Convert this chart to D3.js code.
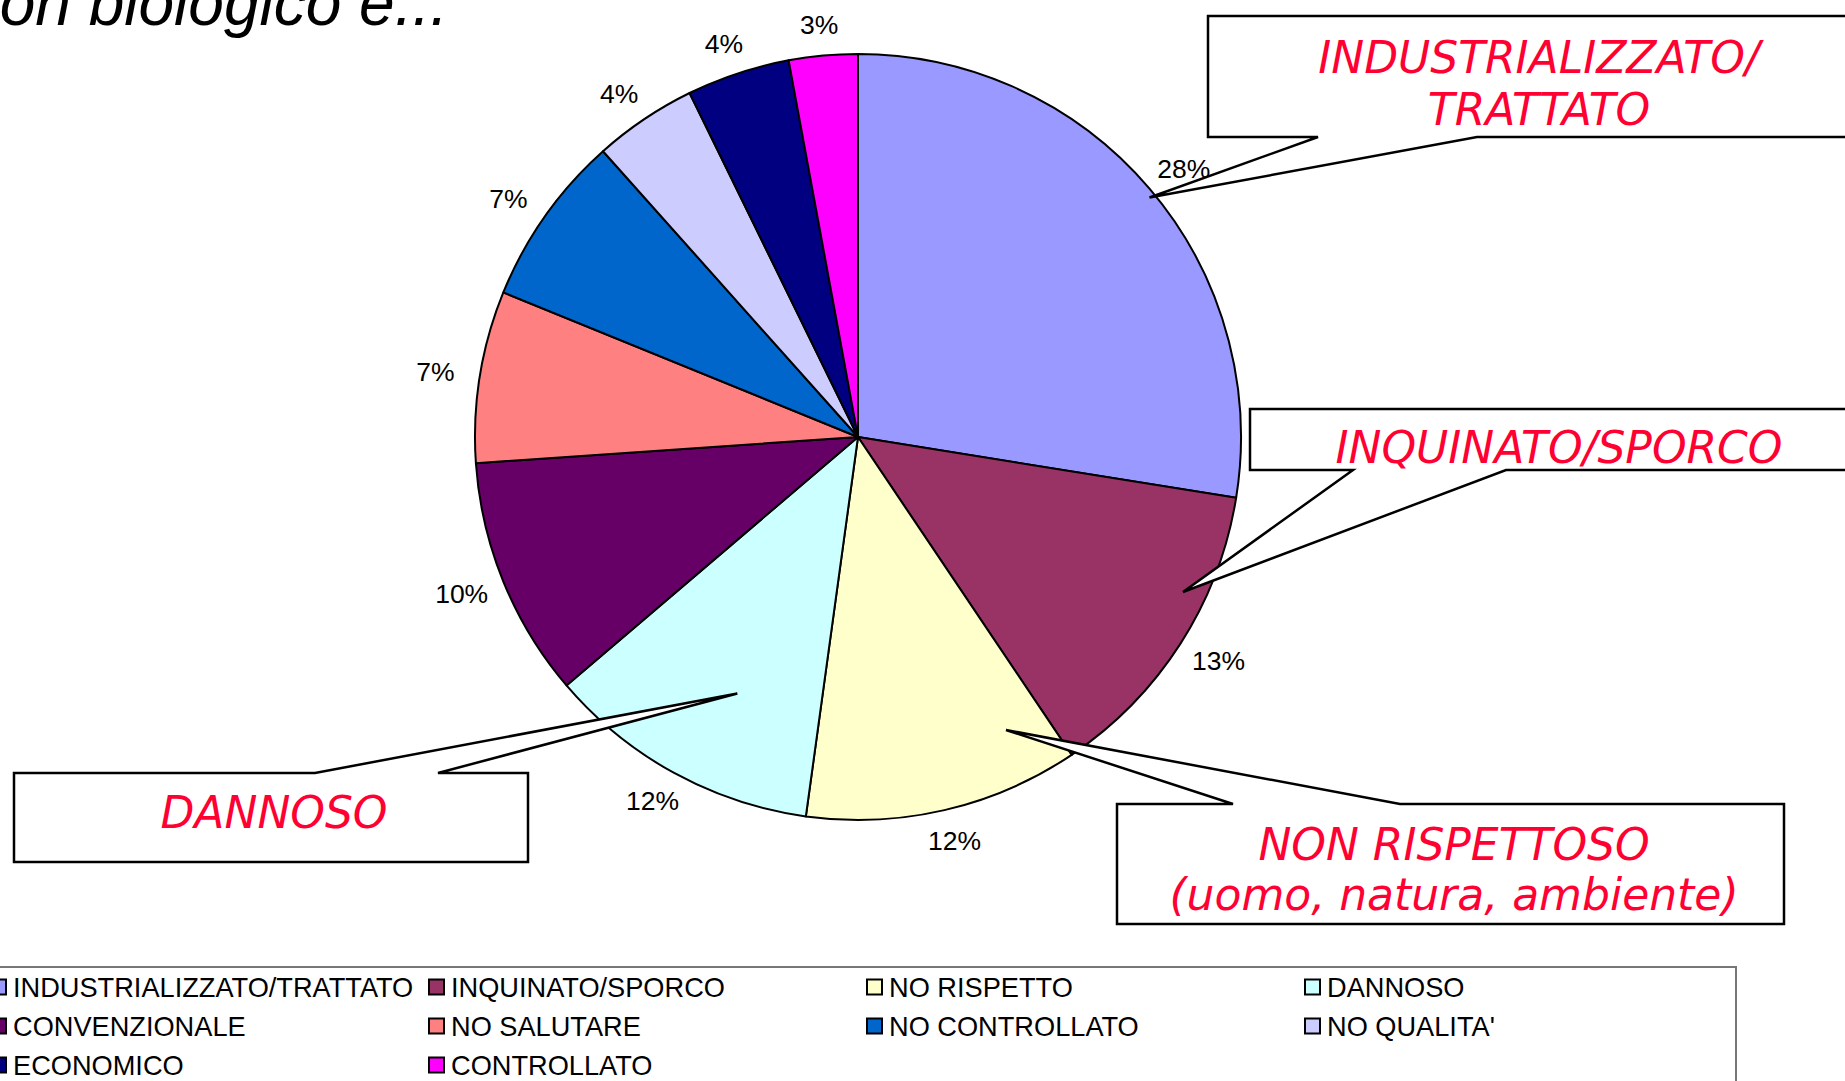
<!DOCTYPE html>
<html>
<head>
<meta charset="utf-8">
<script src="https://cdn.jsdelivr.net/npm/d3@7"></script>
<style>
  body { margin: 0; background: #fff; overflow: hidden; }
  text { font-family: Arial, "Liberation Sans", sans-serif; }
</style>
</head>
<body>
<div id="chart"></div>
<script>
// Data (answer counts, shown as rounded percentages)
const categories = ['INDUSTRIALIZZATO/TRATTATO', 'INQUINATO/SPORCO', 'NO RISPETTO', 'DANNOSO',
  'CONVENZIONALE', 'NO SALUTARE', 'NO CONTROLLATO', "NO QUALITA'", 'ECONOMICO', 'CONTROLLATO'];
const values = [19, 9, 8, 8, 7, 5, 5, 3, 3, 2];
const colors = ['#9999FF', '#993366', '#FFFFCC', '#CCFFFF', '#660066',
  '#FF8080', '#0066CC', '#CCCCFF', '#000080', '#FF00FF'];
const titleText = 'non biologico e...';
const calloutTexts = [
  ['INDUSTRIALIZZATO/', 'TRATTATO'],
  ['INQUINATO/SPORCO'],
  ['NON RISPETTOSO', '(uomo, natura, ambiente)'],
  ['DANNOSO']
];

const width = 1845, height = 1081;
const cx = 858, cy = 437, radius = 383;
const total = d3.sum(values);
const pct = d3.format('.0%');

const svg = d3.select('#chart')
  .append('svg')
  .attr('width', width)
  .attr('height', height);

// Legend box (partly off screen)
svg.append('rect')
  .attr('x', -10)
  .attr('y', 967)
  .attr('width', 1746)
  .attr('height', 200)
  .attr('fill', '#fff')
  .attr('stroke', '#777')
  .attr('stroke-width', 2);

const legendCol = d3.scaleLinear().domain([0, 1]).range([-9, 429]);
const legendRow = d3.scaleLinear().domain([0, 1]).range([987, 1026]);

const legend = svg.selectAll('.legend-item')
  .data(categories)
  .enter()
  .append('g')
  .attr('class', 'legend-item')
  .attr('transform', (d, i) => `translate(${legendCol(i % 4)},${legendRow(Math.floor(i / 4))})`);

legend.append('rect')
  .attr('x', 0)
  .attr('y', -7.5)
  .attr('width', 15)
  .attr('height', 15)
  .attr('fill', (d, i) => colors[i])
  .attr('stroke', '#000')
  .attr('stroke-width', 2);

legend.append('text')
  .attr('x', 22)
  .attr('y', 0)
  .attr('dy', '0.36em')
  .attr('font-size', 27.2)
  .attr('fill', '#000')
  .text(d => d);

// Pie
const pie = d3.pie().sort(null).value(d => d);
const arcs = pie(values);
const arc = d3.arc().innerRadius(0).outerRadius(radius);

const pieG = svg.append('g').attr('transform', `translate(${cx},${cy})`);

pieG.selectAll('.slice')
  .data(arcs)
  .enter()
  .append('path')
  .attr('class', 'slice')
  .attr('d', arc)
  .attr('fill', (d, i) => colors[i])
  .attr('stroke', '#000')
  .attr('stroke-width', 2)
  .attr('stroke-linejoin', 'round');

// percentage labels: box pushed out from a ring just outside the pie
const labelR = 402, halfW = 26, halfH = 12;
function labelPos(d) {
  const a = (d.startAngle + d.endAngle) / 2;
  const sx = Math.sin(a), sy = -Math.cos(a);
  return [sx * (labelR + halfW), sy * labelR + sy * halfH];
}

pieG.selectAll('.pct')
  .data(arcs)
  .enter()
  .append('text')
  .attr('class', 'pct')
  .attr('x', d => labelPos(d)[0])
  .attr('y', d => labelPos(d)[1])
  .attr('dy', '0.36em')
  .attr('text-anchor', 'middle')
  .attr('font-size', 26.5)
  .attr('fill', '#000')
  .text(d => pct(d.data / total));

// Callouts: box + wedge pointing into the pie (tip given in pie polar coords)
const callouts = [
  { x: 1208, y: 16, w: 720, h: 121, side: 'bottom', base: [1318, 1477], tipAngle: 50.6, tipR: 0.985, tx: 1539, ty: [73, 125] },
  { x: 1250, y: 409, w: 700, h: 61, side: 'bottom', base: [1353, 1506], tipAngle: 115.5, tipR: 0.94, tx: 1559, ty: [463] },
  { x: 1117, y: 804, w: 667, h: 120, side: 'top', base: [1233, 1400], tipAngle: 153.2, tipR: 0.857, tx: 1454, ty: [860, 910] },
  { x: 14, y: 773, w: 514, h: 89, side: 'top', base: [315, 438], tipAngle: 205.2, tipR: 0.74, tx: 274, ty: [828] }
];

function calloutPath(c) {
  const a = c.tipAngle * Math.PI / 180;
  const tx = cx + Math.sin(a) * radius * c.tipR;
  const ty = cy - Math.cos(a) * radius * c.tipR;
  const p = d3.path();
  if (c.side === 'bottom') {
    p.moveTo(c.x, c.y);
    p.lineTo(c.x + c.w, c.y);
    p.lineTo(c.x + c.w, c.y + c.h);
    p.lineTo(c.base[1], c.y + c.h);
    p.lineTo(tx, ty);
    p.lineTo(c.base[0], c.y + c.h);
    p.lineTo(c.x, c.y + c.h);
  } else {
    p.moveTo(c.x, c.y);
    p.lineTo(c.base[0], c.y);
    p.lineTo(tx, ty);
    p.lineTo(c.base[1], c.y);
    p.lineTo(c.x + c.w, c.y);
    p.lineTo(c.x + c.w, c.y + c.h);
    p.lineTo(c.x, c.y + c.h);
  }
  p.closePath();
  return p.toString();
}

const callG = svg.selectAll('.callout')
  .data(callouts)
  .enter()
  .append('g')
  .attr('class', 'callout');

callG.append('path')
  .attr('d', calloutPath)
  .attr('fill', '#fff')
  .attr('stroke', '#000')
  .attr('stroke-width', 2.5)
  .attr('stroke-linejoin', 'miter');

callG.each(function (c, i) {
  d3.select(this).selectAll('text')
    .data(calloutTexts[i])
    .enter()
    .append('text')
    .attr('x', c.tx)
    .attr('y', (d, j) => c.ty[j])
    .attr('text-anchor', 'middle')
    .style('font-family', '"DejaVu Sans", Verdana, sans-serif')
    .attr('font-size', 44)
    .attr('font-style', 'italic')
    .attr('fill', '#FF0033')
    .text(d => d);
});

// Title, cut off at the top left as in the original slide
svg.append('text')
  .attr('x', 448)
  .attr('y', 25)
  .attr('text-anchor', 'end')
  .attr('font-size', 64)
  .attr('font-style', 'italic')
  .attr('fill', '#000')
  .text(titleText);
</script>
</body>
</html>
